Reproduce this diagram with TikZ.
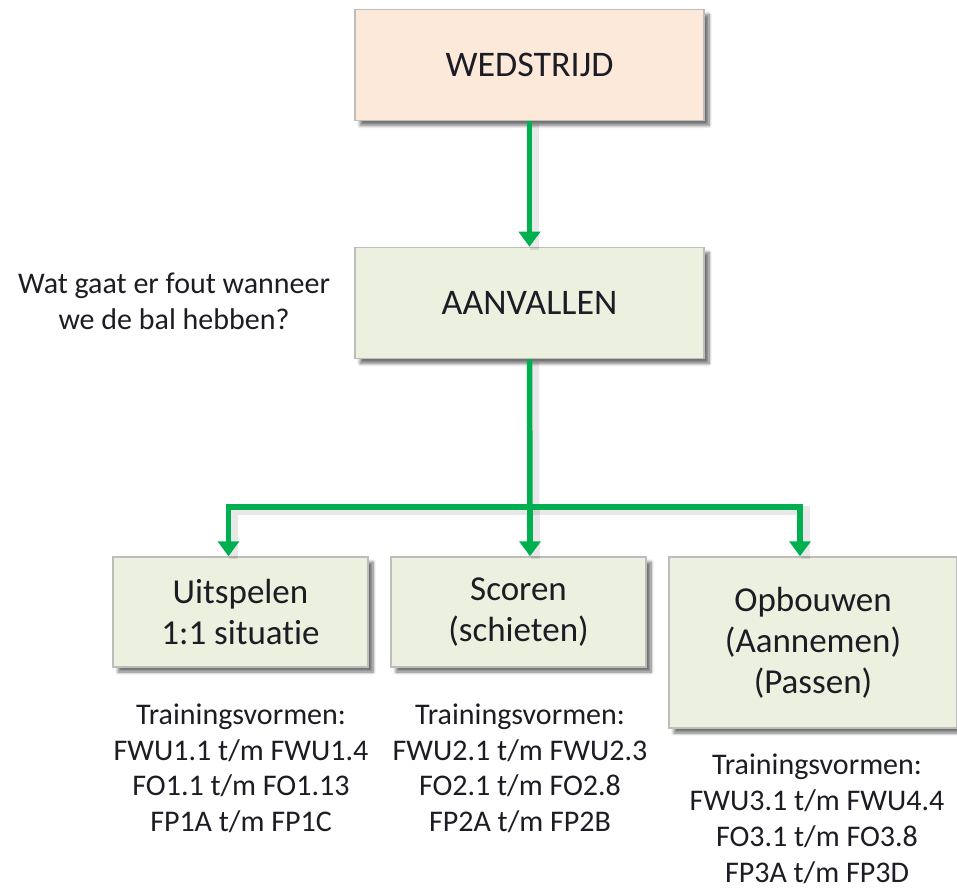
\documentclass[tikz,border=0pt]{standalone}
\usepackage{fontspec}
\setmainfont[Ligatures={NoCommon}]{Carlito}
\usetikzlibrary{arrows.meta,shadows.blur}
\definecolor{peach}{HTML}{FDE9DA}
\definecolor{olive}{HTML}{EBF0DF}
\definecolor{boxborder}{HTML}{BDBDBD}
\definecolor{arrowgreen}{HTML}{00B050}
\definecolor{txt}{HTML}{1C1C24}
\tikzset{
  box/.style={draw=boxborder, line width=1.5pt, inner sep=0pt, align=center, text=txt,
    blur shadow={shadow xshift=5pt, shadow yshift=-5pt, shadow blur radius=3pt, shadow blur steps=8, shadow opacity=55}},
  topbox/.style={box, minimum width=349pt, minimum height=111pt, font=\fontsize{36}{42}\selectfont},
  lowbox/.style={box, minimum width=255pt, minimum height=110pt, font=\fontsize{35}{41}\selectfont},
  note/.style={inner sep=0pt, align=center, text=txt, font=\fontsize{30}{35.5}\selectfont},
  link/.style={draw=arrowgreen, line width=5.5pt, line join=miter},
  linkarrow/.style={link, -{Triangle[width=21pt,length=15pt]}},
  linkshadow/.style={draw=black, line width=9pt, opacity=0.09, line join=miter,
    transform canvas={shift={(5pt,-3pt)}}},
}
\begin{document}
\begin{tikzpicture}[x=1pt,y=-1pt]
\useasboundingbox (0,0) rectangle (957,890);

\node[topbox, fill=peach] (w) at (529.5,65) {WEDSTRIJD};
\node[topbox, fill=olive] (a) at (529.5,303) {AANVALLEN};
\node[lowbox, fill=olive] (b1) at (240.5,612) {Uitspelen\\1:1 situatie};
\node[lowbox, fill=olive] (b2) at (518.5,612) {Scoren\\(schieten)};
\node[box, fill=olive, minimum width=288pt, minimum height=171pt, font=\fontsize{35}{41}\selectfont] (b3) at (813,642.5) {Opbouwen\\(Aannemen)\\(Passen)};

\node[note] (q) at (174,301.5) {Wat gaat er fout wanneer\\we de bal hebben?};
\node[note] (t1) at (241,768.5) {Trainingsvormen:\\FWU1.1 t/m FWU1.4\\FO1.1 t/m FO1.13\\FP1A t/m FP1C};
\node[note] (t2) at (520,768.5) {Trainingsvormen:\\FWU2.1 t/m FWU2.3\\FO2.1 t/m FO2.8\\FP2A t/m FP2B};
\node[note, font=\fontsize{30}{36}\selectfont] (t3) at (817,819) {Trainingsvormen:\\FWU3.1 t/m FWU4.4\\FO3.1 t/m FO3.8\\FP3A t/m FP3D};

\coordinate (j) at (530,507);

% shadows of connectors
\draw[linkshadow] (w.south) -- (a.north);
\draw[linkshadow] (a.south) -- (j);
\draw[linkshadow] ([xshift=-12pt]b1.north) |- ([xshift=-13pt]b3.north |- j) -- ([xshift=-13pt]b3.north);
\draw[linkshadow] (j) -- (j |- b2.north);

% connectors
\draw[linkarrow] (w.south) -- (a.north);
\draw[link] (a.south) -- (j);
\draw[linkarrow] (j) -| ([xshift=-12pt]b1.north);
\draw[linkarrow] (j) -| ([xshift=-13pt]b3.north);
\draw[linkarrow] (j) -- (j |- b2.north);
\end{tikzpicture}
\end{document}
